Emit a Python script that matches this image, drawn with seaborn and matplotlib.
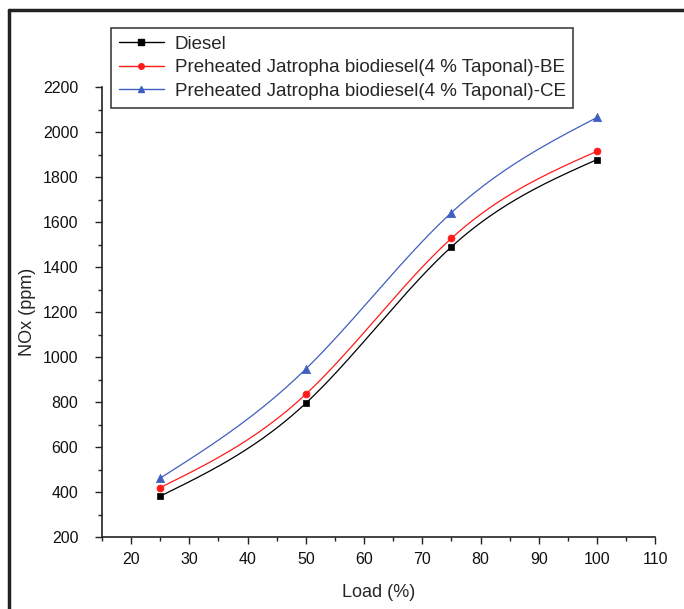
import numpy as np
import pandas as pd
import seaborn as sns
import matplotlib.pyplot as plt
from matplotlib.lines import Line2D
from matplotlib.ticker import MultipleLocator

# Values
load = [25, 50, 75, 100]
nox_diesel = [382, 795, 1490, 1878]
nox_be = [420, 835, 1528, 1915]
nox_ce = [462, 947, 1642, 2065]
series_names = [
    "Diesel",
    "Preheated Jatropha biodiesel(4 % Taponal)-BE",
    "Preheated Jatropha biodiesel(4 % Taponal)-CE",
]
x_ticks = [20, 30, 40, 50, 60, 70, 80, 90, 100, 110]
y_ticks = [200, 400, 600, 800, 1000, 1200, 1400, 1600, 1800, 2000, 2200]

colors = ["#000000", "#ff1a1a", "#3f5fbf"]
markers = ["s", "o", "^"]
marker_sizes = [5, 5, 6]


def natural_spline(x, y, n=200):
    '''
    Smooth curve through the points (natural cubic spline), like Origin's spline line.
    '''
    x = np.asarray(x, float)
    y = np.asarray(y, float)
    k = len(x)
    h = np.diff(x)
    A = np.zeros((k, k))
    b = np.zeros(k)
    A[0, 0] = A[-1, -1] = 1
    for i in range(1, k - 1):
        A[i, i - 1] = h[i - 1]
        A[i, i] = 2 * (h[i - 1] + h[i])
        A[i, i + 1] = h[i]
        b[i] = 6 * ((y[i + 1] - y[i]) / h[i] - (y[i] - y[i - 1]) / h[i - 1])
    M = np.linalg.solve(A, b)
    xs = np.linspace(x[0], x[-1], n)
    idx = np.clip(np.searchsorted(x, xs) - 1, 0, k - 2)
    x0, x1 = x[idx], x[idx + 1]
    hh = x1 - x0
    ys = (M[idx] * (x1 - xs) ** 3 / (6 * hh) + M[idx + 1] * (xs - x0) ** 3 / (6 * hh)
          + (y[idx] / hh - M[idx] * hh / 6) * (x1 - xs)
          + (y[idx + 1] / hh - M[idx + 1] * hh / 6) * (xs - x0))
    return xs, ys


sns.set_theme(style="ticks")
plt.rcParams['font.family'] = ['Liberation Sans', 'DejaVu Sans']

points = pd.DataFrame({
    'Load': load * 3,
    'NOx': nox_diesel + nox_be + nox_ce,
    'Fuel': [n for n in series_names for _ in load],
})
curves = []
for name, vals in zip(series_names, [nox_diesel, nox_be, nox_ce]):
    xs, ys = natural_spline(load, vals)
    curves.append(pd.DataFrame({'Load': xs, 'NOx': ys, 'Fuel': name}))
curves = pd.concat(curves, ignore_index=True)

fig = plt.figure(figsize=(6.84, 6.09), dpi=100)
ax = fig.add_axes([0.149, 0.118, 0.809, 0.739])

palette = dict(zip(series_names, colors))
sns.lineplot(data=curves, x='Load', y='NOx', hue='Fuel', palette=palette,
             linewidth=0.9, sort=False, legend=False, ax=ax)
for name, m, ms in zip(series_names, markers, marker_sizes):
    sub = points[points['Fuel'] == name]
    sns.scatterplot(data=sub, x='Load', y='NOx', color=palette[name], marker=m,
                    s=ms ** 2, edgecolor=palette[name], linewidth=0.5,
                    legend=False, ax=ax, zorder=3)

ax.set_xlim(15, 110)
ax.set_ylim(200, 2200)
ax.set_xticks(x_ticks)
ax.set_yticks(y_ticks)
ax.xaxis.set_minor_locator(MultipleLocator(5))
ax.yaxis.set_minor_locator(MultipleLocator(100))
ax.tick_params(which='major', direction='out', length=5, width=1, labelsize=11.5,
               colors='#222222', labelcolor='#111111')
ax.tick_params(which='minor', direction='out', length=3, width=1, colors='#222222')
ax.tick_params(axis='x', pad=6)
ax.tick_params(axis='y', pad=12)
for side in ['top', 'right']:
    ax.spines[side].set_visible(False)
for side in ['left', 'bottom']:
    ax.spines[side].set_color('#222222')
    ax.spines[side].set_linewidth(1.2)
ax.set_xlabel("Load (%)", fontsize=13, labelpad=12)
ax.set_ylabel("NOx (ppm)", fontsize=13)
ax.yaxis.set_label_coords(-0.119, 0.5)

handles = [
    Line2D([], [], color=c, marker=m, markersize=ms - 1, linewidth=1)
    for c, m, ms in zip(colors, markers, marker_sizes)
]
leg = fig.legend(handles, series_names, loc='upper left',
                 bbox_to_anchor=(111 / 684, 1 - 28 / 609), fontsize=13.5,
                 frameon=True, fancybox=False, handlelength=2.4,
                 handletextpad=0.6, labelspacing=0.35, borderpad=0.4,
                 borderaxespad=0)
leg.get_frame().set_edgecolor('#111111')
leg.get_frame().set_linewidth(1.2)

# Outer frame, only left and top edges
fig.add_artist(Line2D([9 / 684, 9 / 684], [0, 1 - 10 / 609], color='#222222',
                      linewidth=2.5, transform=fig.transFigure))
fig.add_artist(Line2D([9 / 684, 1], [1 - 10 / 609, 1 - 10 / 609], color='#222222',
                      linewidth=2.5, transform=fig.transFigure))

fig.savefig("out.png", dpi=100)
